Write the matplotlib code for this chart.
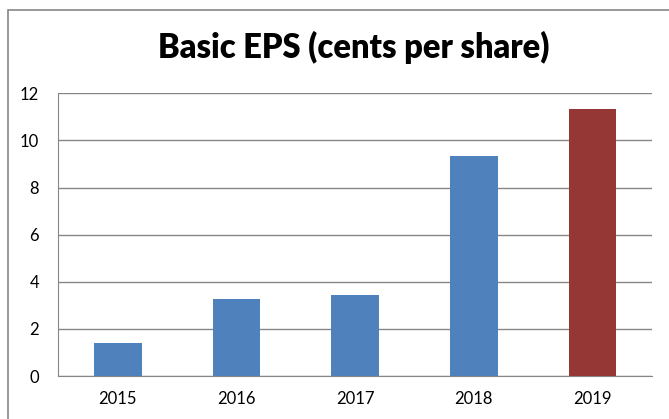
import matplotlib
matplotlib.use('Agg')
import matplotlib.pyplot as plt
from matplotlib.patches import Rectangle

years = ['2015', '2016', '2017', '2018', '2019']
eps = [1.41, 3.25, 3.44, 9.32, 11.33]
colors = ['#4F81BD', '#4F81BD', '#4F81BD', '#4F81BD', '#953735']
yticks = [0, 2, 4, 6, 8, 10, 12]

plt.rcParams['font.family'] = ['Lato', 'DejaVu Sans']

fig = plt.figure(figsize=(6.69, 4.19), dpi=100)
# outer chart frame (cropped at right and bottom)
fig.patches.append(Rectangle((8/669, -0.1), 1.0, 1 - 10/419 + 0.1, transform=fig.transFigure,
                             fill=False, edgecolor='#868686', lw=1.2))

ax = fig.add_axes([0.0873, 0.1026, 0.8873, 0.6747])
ax.bar(range(len(years)), eps, width=0.4, color=colors, zorder=3)
ax.set_xlim(-0.5, 4.5)
ax.set_ylim(0, 12)
ax.set_yticks(yticks)
ax.set_xticks(range(len(years)))
ax.set_xticklabels(years)
ax.grid(axis='y', color='#868686', lw=1, zorder=0)
for s in ['top', 'right']:
    ax.spines[s].set_visible(False)
for s in ['left', 'bottom']:
    ax.spines[s].set_color('#868686')
ax.tick_params(axis='both', length=0, labelsize=12, colors='black')
ax.tick_params(axis='y', pad=14)
ax.tick_params(axis='x', pad=11)

fig.text(354/669, 1 - 47/419, 'Basic EPS (cents per share)', ha='center', va='center',
         fontsize=23.5, fontweight='heavy')

fig.savefig('out.png', dpi=100)
